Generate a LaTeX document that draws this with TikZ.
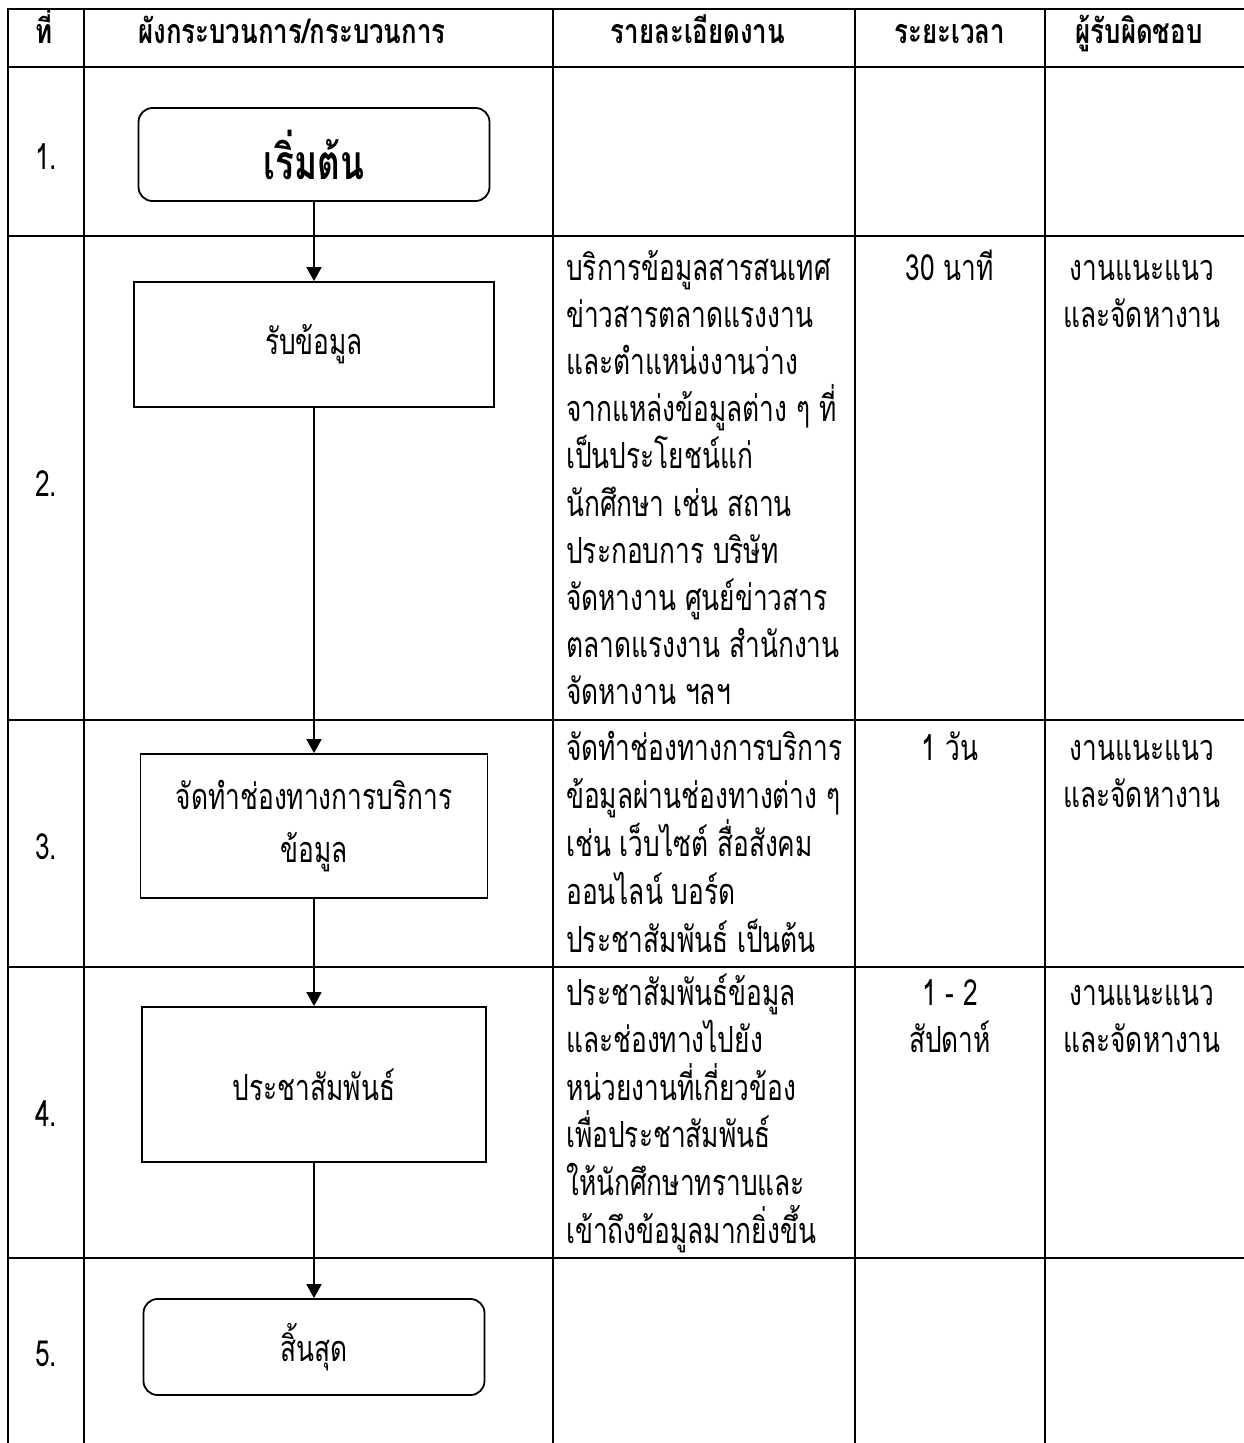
\documentclass[tikz,border=0pt]{standalone}
\usepackage{fontspec}
\newfontfamily\thai[Script=Thai,FakeStretch=0.73]{Loma}
\newfontfamily\thaihead[Script=Thai,FakeStretch=0.76]{Loma}
\usetikzlibrary{arrows.meta}
\newcommand\celllines[6]{\foreach \tx [count=\k] in {#6} {\node[body, anchor=#2] (#1\k) at ({#3},{#4+(\k-1)*#5}) {\tx};}}
\begin{document}
\begin{tikzpicture}[x=1pt,y=-1pt,
  tline/.style={line width=1.8pt, line cap=rect},
  body/.style={inner sep=0pt, font=\thai\fontsize{36}{47.6}\selectfont},
  hdr/.style={inner sep=0pt, anchor=base, font=\thaihead\bfseries\fontsize{34}{44}\selectfont},
  flowbox/.style={draw, line width=1.8pt, inner sep=0pt, align=center, font=\thai\fontsize{36}{53}\selectfont},
  termbox/.style={flowbox, rounded corners=14pt},
  arr/.style={line width=1.8pt, -{Triangle[width=15pt,length=14pt]}}]
\path[use as bounding box] (0,0) rectangle (1243,1443);
% table grid
\foreach \yy in {9,67,236,720,967,1258} {\draw[tline] (8,\yy) -- (1243,\yy);}
\foreach \xx in {8,84,553,855,1045} {\draw[tline] (\xx,9) -- (\xx,1443);}
% header
\node[hdr] (h1) at (44,43) {ที่};
\node[hdr] (h2) at (292,43) {ผังกระบวนการ/กระบวนการ};
\node[hdr] (h3) at (698,43) {รายละเอียดงาน};
\node[hdr] (h4) at (950,43) {ระยะเวลา};
\node[hdr] (h5) at (1139,43) {ผู้รับผิดชอบ};
% row numbers
\node[body, anchor=base] (n1) at (46,169) {1.};
\node[body, anchor=base] (n2) at (46,496) {2.};
\node[body, anchor=base] (n3) at (46,859) {3.};
\node[body, anchor=base] (n4) at (46,1126) {4.};
\node[body, anchor=base] (n5) at (46,1366) {5.};
% flow
\node[termbox, minimum width=351pt, minimum height=93pt, font=\thai\bfseries\fontsize{48}{53}\selectfont] (start) at (314,154.5) {เริ่มต้น};
\node[flowbox, minimum width=360pt, minimum height=125pt] (s2) at (314,344.5) {รับข้อมูล};
\node[flowbox, minimum width=347pt, minimum height=144pt] (s3) at (314,826) {จัดทำช่องทางการบริการ\\ข้อมูล};
\node[flowbox, minimum width=344pt, minimum height=155pt] (s4) at (314,1084.5) {ประชาสัมพันธ์};
\node[termbox, minimum width=341pt, minimum height=96pt] (stop) at (314,1347) {สิ้นสุด};
\draw[arr] (start) -- (s2);
\draw[arr] (s2) -- (s3);
\draw[arr] (s3) -- (s4);
\draw[arr] (s4) -- (stop);
% details
\celllines{d2-}{base west}{566}{280}{47.2}{บริการข้อมูลสารสนเทศ,ข่าวสารตลาดแรงงาน,และตำแหน่งงานว่าง,จากแหล่งข้อมูลต่าง ๆ ที่,เป็นประโยชน์แก่,นักศึกษา เช่น สถาน,ประกอบการ บริษัท,จัดหางาน ศูนย์ข่าวสาร,ตลาดแรงงาน สำนักงาน,จัดหางาน ฯลฯ}
\celllines{d3-}{base west}{566}{760}{48.2}{จัดทำช่องทางการบริการ,ข้อมูลผ่านช่องทางต่าง ๆ,เช่น เว็บไซต์ สื่อสังคม,ออนไลน์ บอร์ด,ประชาสัมพันธ์ เป็นต้น}
\celllines{d4-}{base west}{566}{1005}{47.6}{ประชาสัมพันธ์ข้อมูล,และช่องทางไปยัง,หน่วยงานที่เกี่ยวข้อง,เพื่อประชาสัมพันธ์,ให้นักศึกษาทราบและ,เข้าถึงข้อมูลมากยิ่งขึ้น}
% time
\celllines{t2-}{base}{950}{280}{47.6}{30 นาที}
\celllines{t3-}{base}{950}{760}{47.6}{1 วัน}
\celllines{t4-}{base}{950}{1005}{47.6}{1 - 2,สัปดาห์}
% responsible
\celllines{r2-}{base}{1142}{280}{47.6}{งานแนะแนว,และจัดหางาน}
\celllines{r3-}{base}{1142}{760}{47.6}{งานแนะแนว,และจัดหางาน}
\celllines{r4-}{base}{1142}{1005}{47.6}{งานแนะแนว,และจัดหางาน}
\end{tikzpicture}
\end{document}
